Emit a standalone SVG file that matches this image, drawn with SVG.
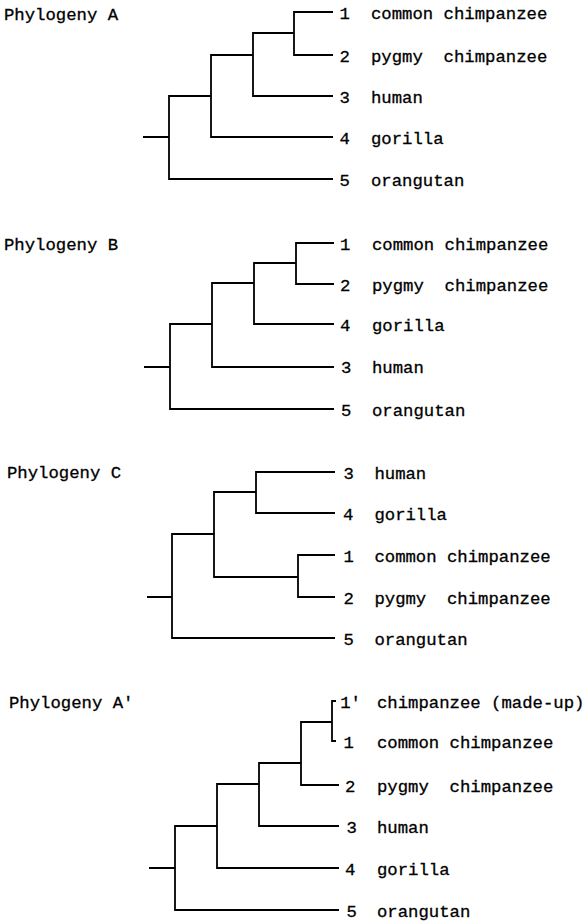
<svg xmlns="http://www.w3.org/2000/svg" width="587" height="922" viewBox="0 0 587 922">
<style>
.t{font-family:"Liberation Mono","DejaVu Sans Mono",monospace;font-size:17.3px;fill:#000;stroke:#000;stroke-width:0.3;white-space:pre}
.b{fill:none;stroke:#000;stroke-width:1.8;stroke-linejoin:miter}
</style>
<rect width="587" height="922" fill="#fff"/>
<g id="titles">
<text class="t" x="4" y="19.5">Phylogeny A</text>
<text class="t" x="4" y="249.5">Phylogeny B</text>
<text class="t" x="7" y="478">Phylogeny C</text>
<text class="t" x="9" y="708">Phylogeny A'</text>
</g>
<g id="connectors">
<path class="b" d="M143,137 H169 M211,96 H169 V179 H333 M253,55 H211 V137 H333 M294,33 H253 V96 H333 M333,12 H294 V55 H333"/>
<path class="b" d="M144,367 H170 M212,324 H170 V409 H334 M254,283 H212 V367 H334 M296,263 H254 V324 H334 M334,243 H296 V284 H334"/>
<path class="b" d="M147,597 H172 M214,534 H172 V638 H335 M256,492 H214 V577 H298 M335,472 H256 V513 H335 M335,555 H298 V597 H335"/>
<path class="b" d="M149,868 H175 M217,826 H175 V910 H339 M259,784 H217 V868 H339 M301,763 H259 V826 H339 M332,722 H301 V785 H339 M336,701 H332 V741 H336"/>
</g>
<g id="treeA">
<g id="A1"><text class="t" x="339.5" y="18.5">1</text><text class="t" x="371" y="18.5">common chimpanzee</text></g>
<g id="A2"><text class="t" x="339.5" y="61.5">2</text><text class="t" x="371" y="61.5" xml:space="preserve">pygmy  chimpanzee</text></g>
<g id="A3"><text class="t" x="339.5" y="102.5">3</text><text class="t" x="371" y="102.5">human</text></g>
<g id="A4"><text class="t" x="339.5" y="143.5">4</text><text class="t" x="371" y="143.5">gorilla</text></g>
<g id="A5"><text class="t" x="339.5" y="185.5">5</text><text class="t" x="371" y="185.5">orangutan</text></g>
</g>
<g id="treeB">
<g id="B1"><text class="t" x="340" y="249.5">1</text><text class="t" x="372" y="249.5">common chimpanzee</text></g>
<g id="B2"><text class="t" x="340" y="290.5">2</text><text class="t" x="372" y="290.5" xml:space="preserve">pygmy  chimpanzee</text></g>
<g id="B4"><text class="t" x="340" y="330.5">4</text><text class="t" x="372" y="330.5">gorilla</text></g>
<g id="B3"><text class="t" x="341" y="373">3</text><text class="t" x="372" y="373">human</text></g>
<g id="B5"><text class="t" x="341" y="415.5">5</text><text class="t" x="372" y="415.5">orangutan</text></g>
</g>
<g id="treeC">
<g id="C3"><text class="t" x="343.5" y="478.5">3</text><text class="t" x="374.4" y="478.5">human</text></g>
<g id="C4"><text class="t" x="343" y="519.5">4</text><text class="t" x="374.4" y="519.5">gorilla</text></g>
<g id="C1"><text class="t" x="343.5" y="561.5">1</text><text class="t" x="374.4" y="561.5">common chimpanzee</text></g>
<g id="C2"><text class="t" x="343.5" y="603.5">2</text><text class="t" x="374.4" y="603.5" xml:space="preserve">pygmy  chimpanzee</text></g>
<g id="C5"><text class="t" x="343.5" y="644.5">5</text><text class="t" x="374.4" y="644.5">orangutan</text></g>
</g>
<g id="treeA2">
<g id="D1p"><text class="t" x="340.2" y="707.5">1'</text><text class="t" x="377" y="707.5">chimpanzee (made-up)</text></g>
<g id="D1"><text class="t" x="343.5" y="747.5">1</text><text class="t" x="377" y="747.5">common chimpanzee</text></g>
<g id="D2"><text class="t" x="345" y="791.5">2</text><text class="t" x="377" y="791.5" xml:space="preserve">pygmy  chimpanzee</text></g>
<g id="D3"><text class="t" x="346.5" y="832.5">3</text><text class="t" x="377" y="832.5">human</text></g>
<g id="D4"><text class="t" x="345" y="874.5">4</text><text class="t" x="377" y="874.5">gorilla</text></g>
<g id="D5"><text class="t" x="346.5" y="916.5">5</text><text class="t" x="377" y="916.5">orangutan</text></g>
</g>
</svg>
